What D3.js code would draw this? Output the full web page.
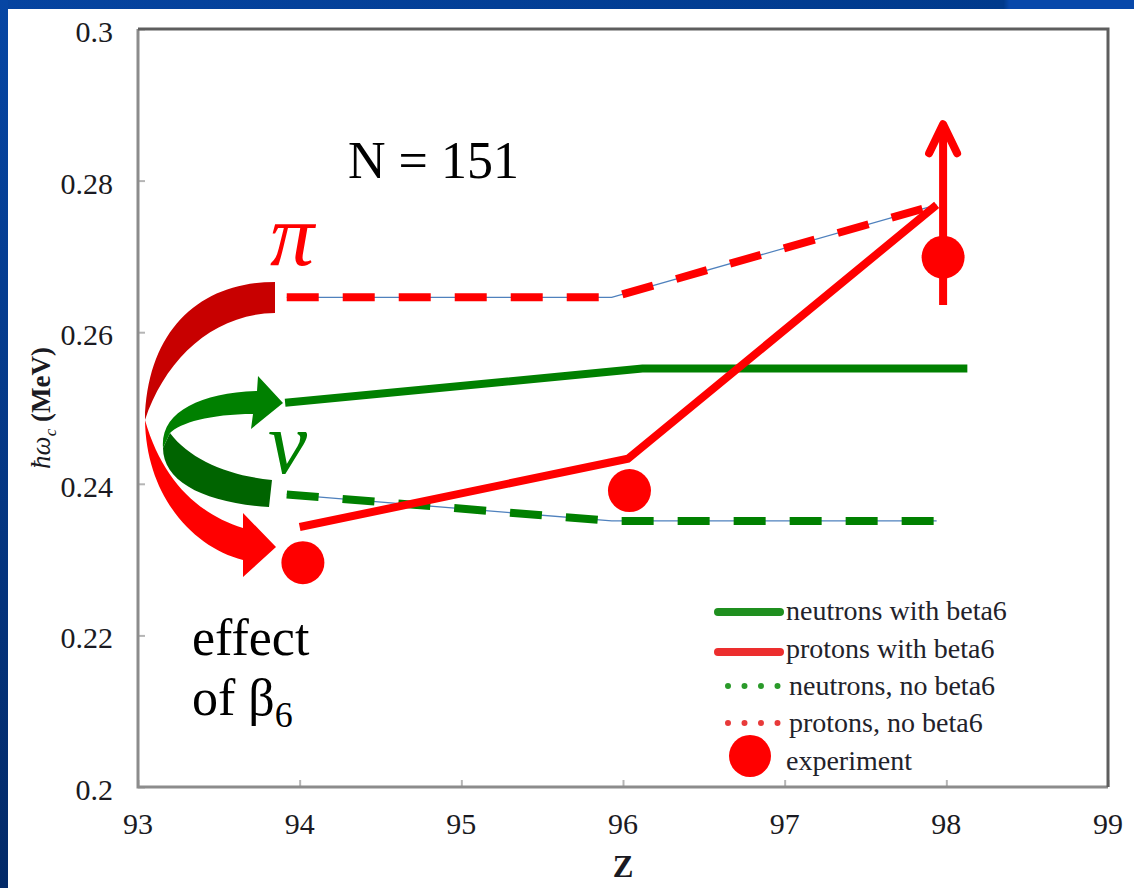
<!DOCTYPE html>
<html>
<head>
<meta charset="utf-8">
<script src="https://cdn.jsdelivr.net/npm/d3@7"></script>
<style>
  html, body { margin: 0; padding: 0; background: #ffffff; }
  svg { display: block; }
  text { font-family: "Liberation Serif", "Times New Roman", serif; }
</style>
</head>
<body>
<svg id="chart" width="1134" height="888"></svg>
<script>
// Oscillator frequency ħω_c for the N = 151 isotones, versus proton number Z

// neutrons with beta6 (solid green)
const nBeta6Z = [93.91, 96.12, 98.13];
const nBeta6W = [0.2507, 0.2552, 0.2552];

// protons with beta6 (solid red)
const pBeta6Z = [94.0, 96.03, 97.94];
const pBeta6W = [0.2343, 0.2433, 0.2768];

// neutrons without beta6 (dashed green)
const nNoBeta6Z = [93.92, 95.93, 97.94];
const nNoBeta6W = [0.2386, 0.2351, 0.2351];

// protons without beta6 (dashed red)
const pNoBeta6Z = [93.92, 95.93, 97.94];
const pNoBeta6W = [0.2646, 0.2646, 0.2768];

// experimental values
const expZ = [94.02, 96.04, 97.98];
const expW = [0.2296, 0.2391, 0.2699];

// lower-limit arrow on the Z = 98 point
const limitZ = [97.98];
const limitFrom = [0.2636];
const limitTo = [0.2877];

// axis ticks
const xTicks = [93, 94, 95, 96, 97, 98, 99];
const yTicks = [0.2, 0.22, 0.24, 0.26, 0.28, 0.3];
const yTickLabels = ["0.2", "0.22", "0.24", "0.26", "0.28", "0.3"];

// legend entries
const legendLabels = ["neutrons with beta6", "protons with beta6", "neutrons, no beta6", "protons, no beta6", "experiment"];

const GREEN = "#008000";
const RED = "#ff0000";

const svg = d3.select("#chart");
const W = 1134, H = 888;

// slide frame: blue bands along the top and left edges
const defs = svg.append("defs");
const gTop = defs.append("linearGradient").attr("id", "topBand").attr("x1", 0).attr("x2", 1).attr("y1", 0).attr("y2", 0);
gTop.append("stop").attr("offset", "0").attr("stop-color", "#0644a0");
gTop.append("stop").attr("offset", "0.885").attr("stop-color", "#003a8c");
gTop.append("stop").attr("offset", "0.89").attr("stop-color", "#0848aa");
gTop.append("stop").attr("offset", "1").attr("stop-color", "#0848aa");
const gLeft = defs.append("linearGradient").attr("id", "leftBand").attr("x1", 0).attr("x2", 0).attr("y1", 0).attr("y2", 1);
gLeft.append("stop").attr("offset", "0").attr("stop-color", "#0646a4");
gLeft.append("stop").attr("offset", "1").attr("stop-color", "#032a68");

svg.append("rect").attr("width", W).attr("height", H).attr("fill", "#ffffff");
svg.append("rect").attr("x", 0).attr("y", 0).attr("width", W).attr("height", 9).attr("fill", "url(#topBand)");
svg.append("rect").attr("x", 0).attr("y", 0).attr("width", 8).attr("height", H).attr("fill", "url(#leftBand)");

const plot = { left: 138, right: 1108, top: 29, bottom: 787 };
const x = d3.scaleLinear().domain([93, 99]).range([plot.left, plot.right]);
const y = d3.scaleLinear().domain([0.2, 0.3]).range([plot.bottom, plot.top]);

// axes: inward ticks, labels drawn separately
const axisG = svg.append("g");
const xAxis = d3.axisBottom(x).tickValues(xTicks).tickSize(-7).tickFormat("");
const yAxis = d3.axisLeft(y).tickValues(yTicks).tickSize(-7).tickFormat("");
axisG.append("g").attr("transform", `translate(0,${plot.bottom})`).call(xAxis)
  .call(g => g.select(".domain").remove())
  .call(g => g.selectAll(".tick line").attr("stroke", "#b5b5b5").attr("stroke-width", 2));
axisG.append("g").attr("transform", `translate(${plot.left},0)`).call(yAxis)
  .call(g => g.select(".domain").remove())
  .call(g => g.selectAll(".tick line").attr("stroke", "#b5b5b5").attr("stroke-width", 2));

// plot frame: lighter on the left and bottom, darker on the top and right
const frame = svg.append("g").attr("fill", "none").attr("stroke-width", 3);
frame.append("path").attr("stroke", "#8c8c8c")
  .attr("d", `M${plot.left},${plot.top} L${plot.left},${plot.bottom} L${plot.right},${plot.bottom}`);
frame.append("path").attr("stroke", "#5e5e5e")
  .attr("d", `M${plot.left},${plot.top} L${plot.right},${plot.top} L${plot.right},${plot.bottom}`);

// tick labels
svg.append("g").selectAll("text").data(xTicks).join("text")
  .attr("x", d => x(d)).attr("y", plot.bottom + 47)
  .attr("text-anchor", "middle").attr("font-size", 30).attr("fill", "#1a1a22")
  .text(d => d);
svg.append("g").selectAll("text").data(yTicks).join("text")
  .attr("x", plot.left - 25).attr("y", d => y(d) + 13)
  .attr("text-anchor", "end").attr("font-size", 30).attr("fill", "#1a1a22")
  .text((d, i) => yTickLabels[i]);

// axis titles
svg.append("text").attr("x", 623).attr("y", 877).attr("text-anchor", "middle")
  .attr("font-size", 31).attr("font-weight", "bold").attr("fill", "#1a1a22").text("Z");
const yTitle = svg.append("text")
  .attr("transform", "translate(50,408) rotate(-90)")
  .attr("text-anchor", "middle").attr("font-size", 27).attr("font-weight", "bold").attr("fill", "#1a1a22");
yTitle.append("tspan").attr("font-style", "italic").attr("font-weight", "normal").text("ħω");
yTitle.append("tspan").attr("font-size", 17).attr("font-style", "italic").attr("font-weight", "normal").attr("dy", 6).text("c");
yTitle.append("tspan").attr("dy", -6).text(" (MeV)");

const line = d3.line().x(d => x(d[0])).y(d => y(d[1]));
const pairs = (zs, ws) => zs.map((z, i) => [z, ws[i]]);

// dashed series: a thin connector with the thick dashes on top
function dashed(zs, ws, color) {
  const pts = pairs(zs, ws);
  svg.append("path").attr("d", line(pts)).attr("fill", "none")
    .attr("stroke", "#4f81bd").attr("stroke-width", 1.3);
  svg.append("path").attr("d", line(pts)).attr("fill", "none")
    .attr("stroke", color).attr("stroke-width", 8).attr("stroke-dasharray", "32,24");
}
dashed(pNoBeta6Z, pNoBeta6W, RED);
dashed(nNoBeta6Z, nNoBeta6W, GREEN);

// solid series
svg.append("path").attr("d", line(pairs(nBeta6Z, nBeta6W))).attr("fill", "none")
  .attr("stroke", GREEN).attr("stroke-width", 8).attr("stroke-linejoin", "miter");
svg.append("path").attr("d", line(pairs(pBeta6Z, pBeta6W))).attr("fill", "none")
  .attr("stroke", RED).attr("stroke-width", 8).attr("stroke-linejoin", "miter");

// lower-limit arrow
limitZ.forEach((z, i) => {
  const ax = x(z), y0 = y(limitFrom[i]), y1 = y(limitTo[i]);
  svg.append("line").attr("x1", ax).attr("x2", ax).attr("y1", y0).attr("y2", y1 + 3)
    .attr("stroke", RED).attr("stroke-width", 8);
  svg.append("path")
    .attr("d", `M${ax - 14},${y1 + 31} L${ax},${y1 + 2} L${ax + 14},${y1 + 31}`)
    .attr("fill", "none").attr("stroke", RED).attr("stroke-width", 8)
    .attr("stroke-linecap", "round").attr("stroke-linejoin", "round");
});

// experimental points
svg.append("g").selectAll("circle").data(pairs(expZ, expW)).join("circle")
  .attr("cx", d => x(d[0])).attr("cy", d => y(d[1])).attr("r", 21.5).attr("fill", RED);

// curved arrows showing the effect of beta6
svg.append("path").attr("fill", "#c80000")
  .attr("d", "M275,282 C200,282 147,330 145,420 C165,360 212,314 275,313 Z");
svg.append("path").attr("fill", RED)
  .attr("d", "M145,420 C146,495 192,547 243,560 L243,577 L276,547 L243,513 L243,528 C198,514 162,480 145,420 Z");
svg.append("path").attr("fill", "#006400")
  .attr("d", "M163,448 L170,433 C190,460 230,476 272,480 L269,507 C205,503 163,482 163,448 Z");
svg.append("path").attr("fill", GREEN)
  .attr("d", "M163,448 C160,412 200,393 257,391 L258,376 L283,403 L251,429 L253,414 C210,414 180,423 170,433 Z");

// annotations
svg.append("text").attr("x", 348).attr("y", 178).attr("font-size", 52).attr("fill", "#000").text("N = 151");
svg.append("text").attr("x", 270).attr("y", 265).attr("font-size", 88).attr("font-style", "italic").attr("fill", RED).text("π");
svg.append("text").attr("x", 268).attr("y", 473).attr("font-size", 88).attr("font-style", "italic").attr("fill", GREEN).text("ν");
svg.append("text").attr("x", 192).attr("y", 655).attr("font-size", 52).attr("fill", "#000").text("effect");
const ofb = svg.append("text").attr("x", 192).attr("y", 715).attr("font-size", 52).attr("fill", "#000");
ofb.append("tspan").text("of β");
ofb.append("tspan").attr("font-size", 36).attr("dy", 12).text("6");

// legend
const legend = svg.append("g");
const rowY = [612, 652, 686, 723, 756];
const lx0 = 718, lx1 = 780;
legend.append("line").attr("x1", lx0).attr("x2", lx1).attr("y1", rowY[0]).attr("y2", rowY[0])
  .attr("stroke", "#1f8f1f").attr("stroke-width", 8).attr("stroke-linecap", "round");
legend.append("line").attr("x1", lx0).attr("x2", lx1).attr("y1", rowY[1]).attr("y2", rowY[1])
  .attr("stroke", "#ec2e2e").attr("stroke-width", 8).attr("stroke-linecap", "round");
legend.append("line").attr("x1", 728).attr("x2", 780).attr("y1", rowY[2]).attr("y2", rowY[2])
  .attr("stroke", "#2a9a2a").attr("stroke-width", 6).attr("stroke-linecap", "round").attr("stroke-dasharray", "0,16.5");
legend.append("line").attr("x1", 728).attr("x2", 780).attr("y1", rowY[3]).attr("y2", rowY[3])
  .attr("stroke", "#e83a3a").attr("stroke-width", 6).attr("stroke-linecap", "round").attr("stroke-dasharray", "0,16.5");
legend.append("circle").attr("cx", 750).attr("cy", rowY[4]).attr("r", 21).attr("fill", RED);
const textY = [620, 658, 695, 732, 770];
legend.selectAll("text").data(legendLabels).join("text")
  .attr("x", (d, i) => i >= 2 && i <= 3 ? 789 : 786).attr("y", (d, i) => textY[i])
  .attr("font-size", 28).attr("fill", "#22222a").text(d => d);
</script>
</body>
</html>
